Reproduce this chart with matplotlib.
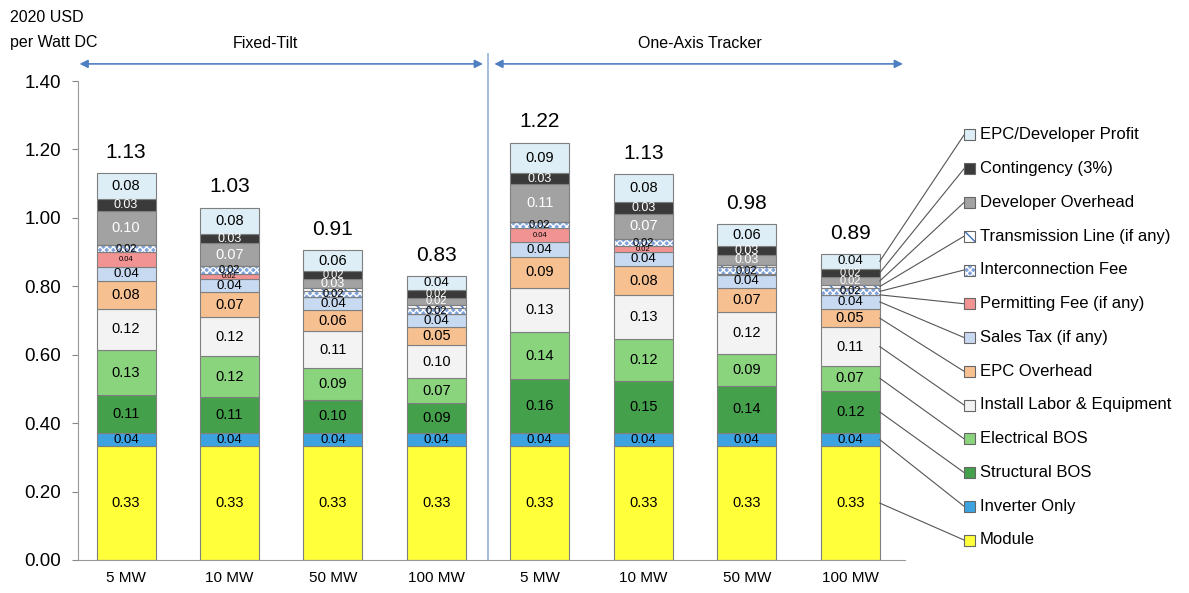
import matplotlib
matplotlib.use("Agg")
import matplotlib.pyplot as plt
from matplotlib.patches import Rectangle
import numpy as np

plt.rcParams['font.family'] = ['Liberation Sans', 'DejaVu Sans']
plt.rcParams['hatch.linewidth'] = 1.0

# ---------------- data ----------------
categories = ['5 MW', '10 MW', '50 MW', '100 MW', '5 MW', '10 MW', '50 MW', '100 MW']
groups = ['Fixed-Tilt', 'One-Axis Tracker']

components = ['Module', 'Inverter Only', 'Structural BOS', 'Electrical BOS',
              'Install Labor & Equipment', 'EPC Overhead', 'Sales Tax (if any)',
              'Permitting Fee (if any)', 'Interconnection Fee', 'Transmission Line (if any)',
              'Developer Overhead', 'Contingency (3%)', 'EPC/Developer Profit']

module          = [0.333, 0.333, 0.333, 0.333, 0.333, 0.333, 0.333, 0.333]
inverter        = [0.038, 0.038, 0.038, 0.038, 0.038, 0.038, 0.038, 0.038]
structural      = [0.110, 0.106, 0.097, 0.088, 0.157, 0.152, 0.138, 0.124]
electrical      = [0.133, 0.118, 0.092, 0.072, 0.138, 0.124, 0.094, 0.073]
install         = [0.120, 0.116, 0.108, 0.098, 0.130, 0.127, 0.122, 0.112]
epc_overhead    = [0.080, 0.071, 0.062, 0.052, 0.090, 0.084, 0.070, 0.054]
sales_tax       = [0.041, 0.038, 0.038, 0.038, 0.042, 0.041, 0.038, 0.041]
permitting      = [0.044, 0.017, 0.000, 0.000, 0.042, 0.018, 0.004, 0.000]
interconnection = [0.022, 0.021, 0.018, 0.018, 0.018, 0.021, 0.018, 0.020]
transmission    = [0.000, 0.000, 0.008, 0.008, 0.000, 0.000, 0.008, 0.008]
dev_overhead    = [0.100, 0.068, 0.026, 0.022, 0.110, 0.074, 0.027, 0.024]
contingency     = [0.033, 0.027, 0.024, 0.022, 0.034, 0.033, 0.027, 0.024]
profit          = [0.078, 0.077, 0.062, 0.040, 0.088, 0.083, 0.064, 0.043]

series = [module, inverter, structural, electrical, install, epc_overhead, sales_tax,
          permitting, interconnection, transmission, dev_overhead, contingency, profit]

colors = ['#FFFF3A', '#3DA3E0', '#45A04C', '#8AD47E', '#F3F3F3', '#F6C090', '#C8DAF2',
          '#F29393', '#7FA2DA', '#FFFFFF', '#A2A2A2', '#3A3A3A', '#DDEEF6']
hatches = [None, None, None, None, None, None, None, None, 'xxxxx', '\\\\\\', None, None, None]
hatch_colors = [None]*8 + ['white', '#3C6FBF'] + [None]*3
text_colors = ['black']*10 + ['white', 'white', 'black']

# ---------------- figure ----------------
W, H = 1189, 593
fig = plt.figure(figsize=(W/100, H/100), dpi=100)
ax = fig.add_axes([78/W, 1-560/H, (905-78)/W, (560-81)/H])

x = np.arange(len(categories))
bw = 0.57
bottom = np.zeros(len(categories))
edge = '#7F7F7F'
for i, vals in enumerate(series):
    vals = np.array(vals)
    if hatches[i]:
        ax.bar(x, vals, bw, bottom=bottom, color=colors[i], hatch=hatches[i],
               edgecolor=hatch_colors[i], linewidth=0, zorder=2)
        ax.bar(x, vals, bw, bottom=bottom, fill=False, edgecolor=edge, linewidth=0.8, zorder=3)
    else:
        ax.bar(x, vals, bw, bottom=bottom, color=colors[i], edgecolor=edge,
               linewidth=0.8, zorder=2)
    for j, v in enumerate(vals):
        if v < 0.01:
            continue
        if components[i].startswith('Permitting'):
            fs = 5.5
        elif v >= 0.05:
            fs = 10.5
        elif v >= 0.035:
            fs = 9.5
        elif v >= 0.025:
            fs = 9
        else:
            fs = 8
        ax.text(x[j], bottom[j] + v/2, f"{v:.2f}", ha='center', va='center',
                fontsize=fs, color=text_colors[i], zorder=4)
    bottom = bottom + vals

totals = bottom
for j, t in enumerate(totals):
    ax.annotate(f"{t:.2f}", (x[j], t), xytext=(0, 8), textcoords='offset points',
                ha='center', va='bottom', fontsize=15)

ax.set_xlim(-0.465, 7.53)
ax.set_ylim(0, 1.40)
ax.set_yticks(np.arange(0, 1.41, 0.2))
ax.set_yticklabels([f"{v:.2f}" for v in np.arange(0, 1.41, 0.2)], fontsize=13.5)
ax.set_xticks(x)
ax.set_xticklabels(categories, fontsize=11)
ax.tick_params(axis='x', length=0, pad=8)
ax.tick_params(axis='y', length=4, color='#888888', pad=8)
for s in ['top', 'right']:
    ax.spines[s].set_visible(False)
ax.spines['left'].set_color('#999999')
ax.spines['bottom'].set_color('#999999')

# divider and group arrows
ax.plot([3.5, 3.5], [0, 1.48], color='#9DB7DD', lw=1.3, clip_on=False, zorder=1)
arrow_y = 1.45
ax.annotate('', xy=(-0.45, arrow_y), xytext=(3.45, arrow_y),
            arrowprops=dict(arrowstyle='<|-|>', color='#4F7FC2', lw=1.2,
                            mutation_scale=12, shrinkA=0, shrinkB=0), annotation_clip=False)
ax.annotate('', xy=(3.56, arrow_y), xytext=(7.51, arrow_y),
            arrowprops=dict(arrowstyle='<|-|>', color='#4F7FC2', lw=1.2,
                            mutation_scale=12, shrinkA=0, shrinkB=0), annotation_clip=False)
fig.text(265/W, 1-43/H, groups[0], ha='center', va='center', fontsize=11.5)
fig.text(700/W, 1-43/H, groups[1], ha='center', va='center', fontsize=11.5)
fig.text(10/W, 1-18/H, '2020 USD', ha='left', va='center', fontsize=11.5)
fig.text(10/W, 1-42/H, 'per Watt DC', ha='left', va='center', fontsize=11.5)

# legend with leader lines
last = len(categories) - 1
seg_bottom = 0.0
leg_top, leg_step = 135, 33.75
n = len(components)
for i, vals in enumerate(series):
    v = vals[last]
    center = seg_bottom + v/2
    seg_bottom += v
    ly = leg_top + (n - 1 - i) * leg_step
    ax.annotate('', xy=(x[last] + bw/2, center), xycoords='data',
                xytext=(964, H - ly), textcoords='figure pixels',
                arrowprops=dict(arrowstyle='-', color='#555555', lw=0.8,
                                shrinkA=0, shrinkB=0), annotation_clip=False)
    if hatches[i]:
        sq = Rectangle((964/W, (H - ly - 5.5)/H), 11/W, 11/H, transform=fig.transFigure,
                       facecolor=colors[i], edgecolor=hatch_colors[i], lw=0,
                       hatch=hatches[i])
        fig.patches.append(sq)
        sq2 = Rectangle((964/W, (H - ly - 5.5)/H), 11/W, 11/H, transform=fig.transFigure,
                        fill=False, edgecolor='#666666', lw=0.8)
        fig.patches.append(sq2)
    else:
        sq = Rectangle((964/W, (H - ly - 5.5)/H), 11/W, 11/H, transform=fig.transFigure,
                       facecolor=colors[i], edgecolor='#666666', lw=0.8)
        fig.patches.append(sq)
    fig.text(980/W, 1 - ly/H, components[i], ha='left', va='center', fontsize=12)

fig.savefig('out.png', dpi=100)
